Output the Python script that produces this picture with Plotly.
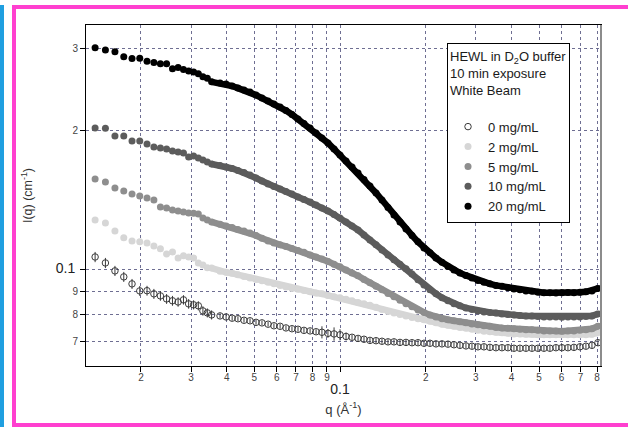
import math
import plotly.graph_objects as go

# ---------------- data ----------------
q = [0.0138, 0.0150, 0.0162, 0.0174, 0.0186, 0.0198, 0.0210, 0.0222, 0.0234, 0.0246,
     0.0258, 0.0270, 0.0282, 0.0294, 0.0306, 0.0318, 0.0330, 0.0342, 0.0354,
     0.0379, 0.0398, 0.0418, 0.0438, 0.0460, 0.0483, 0.0507, 0.0532, 0.0559, 0.0586,
     0.0616, 0.0646, 0.0678, 0.0712, 0.0747, 0.0785, 0.0824, 0.0864, 0.0907, 0.0953,
     0.1000, 0.1050, 0.1102, 0.1157, 0.1214, 0.1274, 0.1338, 0.1404, 0.1474, 0.1547,
     0.1624, 0.1705, 0.1790, 0.1879, 0.1972, 0.2070, 0.2173, 0.2281, 0.2394, 0.2513,
     0.2638, 0.2769, 0.2907, 0.3051, 0.3203, 0.3362, 0.3529, 0.3705, 0.3889, 0.4082,
     0.4285, 0.4498, 0.4722, 0.4956, 0.5203, 0.5461, 0.5733, 0.6018, 0.6317, 0.6631,
     0.6960, 0.7306, 0.7670, 0.8051]

i_0 = [0.1066, 0.1035, 0.0995, 0.0966, 0.0933, 0.0901, 0.0902, 0.0888, 0.0879, 0.0866,
       0.0858, 0.0853, 0.0862, 0.0845, 0.0841, 0.0837, 0.0816, 0.0808, 0.0800,
       0.0796, 0.0792, 0.0787, 0.0785, 0.0779, 0.0777, 0.0771, 0.0769, 0.0764, 0.0758,
       0.0756, 0.0750, 0.0747, 0.0745, 0.0741, 0.0739, 0.0736, 0.0734, 0.0730, 0.0728,
       0.0725, 0.0719, 0.0716, 0.0712, 0.0709, 0.0705, 0.0704, 0.0702, 0.0700, 0.0700,
       0.0698, 0.0698, 0.0697, 0.0697, 0.0695, 0.0695, 0.0693, 0.0693, 0.0692, 0.0690,
       0.0688, 0.0686, 0.0685, 0.0683, 0.0683, 0.0681, 0.0680, 0.0680, 0.0680, 0.0678,
       0.0678, 0.0678, 0.0678, 0.0678, 0.0678, 0.0678, 0.0680, 0.0680, 0.0680, 0.0681,
       0.0683, 0.0685, 0.0688, 0.0697]

err_0 = [0.0027, 0.0026, 0.0025, 0.0024, 0.0023, 0.0022, 0.0022, 0.0022, 0.0021, 0.0021,
         0.0021, 0.0020, 0.0020, 0.0020, 0.0019, 0.0019, 0.0019, 0.0018, 0.0018,
         0.0010, 0.0010, 0.0010, 0.0009, 0.0009, 0.0009, 0.0009, 0.0009, 0.0009, 0.0009,
         0.0009, 0.0009, 0.0009, 0.0009, 0.0009, 0.0009, 0.0009, 0.0022, 0.0016, 0.0024,
         0.0020, 0.0014, 0.0009, 0.0009, 0.0009, 0.0009, 0.0009, 0.0009, 0.0009, 0.0009,
         0.0009, 0.0009, 0.0009, 0.0009, 0.0009, 0.0009, 0.0009, 0.0009, 0.0009, 0.0009,
         0.0009, 0.0009, 0.0009, 0.0009, 0.0009, 0.0009, 0.0009, 0.0009, 0.0009, 0.0009,
         0.0009, 0.0009, 0.0009, 0.0009, 0.0009, 0.0009, 0.0009, 0.0009, 0.0009, 0.0009,
         0.0009, 0.0009, 0.0009, 0.0009]

i_2 = [0.1281, 0.1262, 0.1213, 0.1172, 0.1154, 0.1149, 0.1143, 0.1126, 0.1110, 0.1082,
       0.1093, 0.1061, 0.1072, 0.1066, 0.1061, 0.1035, 0.1025, 0.1010, 0.1009,
       0.0993, 0.0988, 0.0983, 0.0976, 0.0968, 0.0961, 0.0954, 0.0947, 0.0940, 0.0933,
       0.0926, 0.0919, 0.0912, 0.0908, 0.0903, 0.0897, 0.0892, 0.0888, 0.0881, 0.0875,
       0.0871, 0.0864, 0.0858, 0.0851, 0.0845, 0.0839, 0.0831, 0.0822, 0.0814, 0.0808,
       0.0802, 0.0796, 0.0790, 0.0785, 0.0781, 0.0775, 0.0769, 0.0764, 0.0760, 0.0756,
       0.0752, 0.0749, 0.0745, 0.0741, 0.0738, 0.0736, 0.0734, 0.0732, 0.0730, 0.0728,
       0.0728, 0.0727, 0.0727, 0.0725, 0.0725, 0.0725, 0.0725, 0.0725, 0.0725, 0.0725,
       0.0725, 0.0725, 0.0727, 0.0732]

i_5 = [0.1569, 0.1546, 0.1501, 0.1479, 0.1457, 0.1442, 0.1428, 0.1414, 0.1366, 0.1359,
       0.1346, 0.1339, 0.1333, 0.1326, 0.1324, 0.1319, 0.1294, 0.1281, 0.1268,
       0.1253, 0.1243, 0.1234, 0.1222, 0.1213, 0.1201, 0.1186, 0.1169, 0.1154, 0.1143,
       0.1132, 0.1123, 0.1112, 0.1101, 0.1091, 0.1077, 0.1066, 0.1056, 0.1043, 0.1028,
       0.1015, 0.1000, 0.0985, 0.0971, 0.0954, 0.0938, 0.0922, 0.0906, 0.0890, 0.0875,
       0.0860, 0.0845, 0.0833, 0.0820, 0.0810, 0.0800, 0.0792, 0.0785, 0.0781, 0.0777,
       0.0773, 0.0769, 0.0765, 0.0762, 0.0758, 0.0756, 0.0752, 0.0750, 0.0749, 0.0747,
       0.0745, 0.0743, 0.0743, 0.0741, 0.0739, 0.0739, 0.0739, 0.0738, 0.0739, 0.0739,
       0.0741, 0.0743, 0.0747, 0.0756]

i_10 = [0.2020, 0.2018, 0.1941, 0.1942, 0.1894, 0.1895, 0.1866, 0.1839, 0.1829, 0.1820,
        0.1802, 0.1794, 0.1785, 0.1750, 0.1758, 0.1741, 0.1724, 0.1707, 0.1690,
        0.1678, 0.1665, 0.1653, 0.1637, 0.1620, 0.1601, 0.1577, 0.1554, 0.1531, 0.1512,
        0.1493, 0.1475, 0.1457, 0.1435, 0.1418, 0.1400, 0.1380, 0.1359, 0.1339, 0.1316,
        0.1294, 0.1268, 0.1243, 0.1219, 0.1189, 0.1160, 0.1132, 0.1104, 0.1077, 0.1051,
        0.1028, 0.1005, 0.0980, 0.0952, 0.0928, 0.0906, 0.0888, 0.0871, 0.0858, 0.0845,
        0.0837, 0.0828, 0.0822, 0.0816, 0.0812, 0.0810, 0.0808, 0.0804, 0.0802, 0.0800,
        0.0798, 0.0796, 0.0796, 0.0794, 0.0792, 0.0792, 0.0792, 0.0791, 0.0792, 0.0792,
        0.0792, 0.0794, 0.0796, 0.0804]

i_20 = [0.3006, 0.2972, 0.2947, 0.2875, 0.2852, 0.2853, 0.2814, 0.2796, 0.2777, 0.2778,
        0.2709, 0.2728, 0.2701, 0.2679, 0.2665, 0.2643, 0.2604, 0.2584, 0.2540,
        0.2524, 0.2512, 0.2487, 0.2462, 0.2438, 0.2414, 0.2378, 0.2343, 0.2309, 0.2275,
        0.2241, 0.2203, 0.2160, 0.2112, 0.2065, 0.2020, 0.1970, 0.1922, 0.1875, 0.1820,
        0.1767, 0.1715, 0.1665, 0.1616, 0.1565, 0.1516, 0.1464, 0.1414, 0.1363, 0.1313,
        0.1268, 0.1225, 0.1186, 0.1149, 0.1115, 0.1088, 0.1061, 0.1038, 0.1017, 0.1000,
        0.0985, 0.0973, 0.0961, 0.0949, 0.0940, 0.0933, 0.0926, 0.0922, 0.0915, 0.0910,
        0.0906, 0.0901, 0.0899, 0.0895, 0.0893, 0.0893, 0.0892, 0.0893, 0.0894, 0.0893,
        0.0895, 0.0897, 0.0901, 0.0912]

series_names = ["0 mg/mL", "2 mg/mL", "5 mg/mL", "10 mg/mL", "20 mg/mL"]
legend_title = "HEWL in D<sub>2</sub>O buffer<br>10 min exposure<br>White Beam<br>\u00a0"

x_tickvals = [0.02, 0.03, 0.04, 0.05, 0.06, 0.07, 0.08, 0.09, 0.1,
              0.2, 0.3, 0.4, 0.5, 0.6, 0.7, 0.8]
x_ticktext = ["2", "3", "4", "5", "6", "7", "8", "9", "0.1",
              "2", "3", "4", "5", "6", "7", "8"]
y_tickvals = [0.07, 0.08, 0.09, 0.1, 0.2, 0.3]
y_ticktext = ["7", "8", "9", "0.1", "2", "3"]
major_tick = 0.1          # decade tick drawn longer on both axes
x_limits = [0.01282, 0.8253]
y_limits = [0.0621, 0.3366]
DENSE_FROM = 18   # from here on the measured points merge into a thick band

# ---------------- styling ----------------
FONT = "Arial, 'Liberation Sans', sans-serif"
colors = ["#3a3a3a", "#d6d6d6", "#8e8e8e", "#5c5c5c", "#000000"]
GRID = "#6e6e92"
PLOT_W = 628 - 86 - 27
PLOT_H = 427 - 25 - 61


def fmt_x(t):
    if t == "0.1":
        return "\u00a0<br><span style='font-size:14px;fill:#222'>0.1</span>"
    return t


def fmt_y(t):
    if t == "0.1":
        return "<span style='font-size:14px;fill:#222'>0.1</span>\u00a0"
    return t


fig = go.Figure()
all_i = [i_0, i_2, i_5, i_10, i_20]
for k, (name, vals) in enumerate(zip(series_names, all_i)):
    if k == 0:
        fig.add_trace(go.Scatter(
            x=q, y=vals, mode="markers", name=name,
            marker=dict(symbol="circle-open", size=6.5, color=colors[k],
                        line=dict(width=1, color=colors[k])),
            error_y=dict(type="data", array=err_0, visible=True,
                         color=colors[k], thickness=1, width=0),
        ))
    else:
        # dense part of the measurement drawn as a thick band (markers overlap there)
        fig.add_trace(go.Scatter(
            x=q[DENSE_FROM:], y=vals[DENSE_FROM:], mode="lines", showlegend=False,
            line=dict(color=colors[k], width=6.5), hoverinfo="skip",
        ))
        fig.add_trace(go.Scatter(
            x=q, y=vals, mode="markers", name=name,
            marker=dict(symbol="circle", size=7, color=colors[k],
                        line=dict(width=0)),
        ))

xr = [math.log10(x_limits[0]), math.log10(x_limits[1])]
yr = [math.log10(y_limits[0]), math.log10(y_limits[1])]
lm = math.log10(major_tick)

fig.update_layout(
    width=628, height=427,
    margin=dict(l=86, r=27, t=25, b=61),
    paper_bgcolor="white", plot_bgcolor="white",
    font=dict(family=FONT, color="#333333", size=10),
    showlegend=True,
    legend=dict(
        x=0.701, y=0.947, xanchor="left", yanchor="top",
        bgcolor="white", bordercolor="#000000", borderwidth=1,
        font=dict(family=FONT, size=13, color="#1a1a1a"),
        title=dict(text=legend_title, font=dict(family=FONT, size=13, color="#1a1a1a")),
        itemclick=False, tracegroupgap=0,
    ),
    xaxis=dict(
        type="log", range=xr, autorange=False,
        tickvals=x_tickvals, ticktext=[fmt_x(t) for t in x_ticktext], tickangle=0,
        ticks="outside", ticklen=5, tickwidth=1, tickcolor="#000000",
        ticklabelstandoff=-3,
        tickfont=dict(family=FONT, size=10, color="#444444"),
        showline=True, linecolor="#000000", linewidth=1, mirror=True,
        showgrid=True, gridcolor=GRID, griddash="dot", gridwidth=1,
        zeroline=False,
        title=dict(text="q (Å<sup>-1</sup>)", font=dict(family=FONT, size=13, color="#333333"),
                   standoff=8),
    ),
    yaxis=dict(
        type="log", range=yr, autorange=False,
        tickvals=y_tickvals, ticktext=[fmt_y(t) for t in y_ticktext],
        ticks="outside", ticklen=5, tickwidth=1, tickcolor="#000000",
        tickfont=dict(family=FONT, size=10, color="#444444"),
        showline=True, linecolor="#000000", linewidth=1, mirror=True,
        showgrid=True, gridcolor=GRID, griddash="dot", gridwidth=1,
        zeroline=False,
        title=dict(text="I(q) (cm<sup>-1</sup>)", font=dict(family=FONT, size=12.5, color="#333333"),
                   standoff=20),
    ),
    shapes=[
        # longer decade ticks
        dict(type="line", xref="x", yref="paper", x0=lm, x1=lm, y0=0, y1=-10 / PLOT_H,
             line=dict(color="#000000", width=1), layer="above"),
        dict(type="line", xref="paper", yref="y", x0=0, x1=-10 / PLOT_W, y0=lm, y1=lm,
             line=dict(color="#000000", width=1), layer="above"),
        dict(type="line", xref="paper", yref="paper", x0=1, x1=1, y0=0, y1=1,
             line=dict(color="#8c8c8c", width=2), layer="above"),
        dict(type="rect", xref="paper", yref="paper", x0=-0.1398, x1=1.065, y0=-0.173, y1=1.0528,
             line=dict(color="#ff3fcf", width=4), layer="above"),
        dict(type="line", xref="paper", yref="paper", x0=-0.1631, x1=-0.1631, y0=-0.2, y1=1.0587,
             line=dict(color="#1f9fe0", width=4), layer="above"),
    ],
)

fig.write_html("out.html")
